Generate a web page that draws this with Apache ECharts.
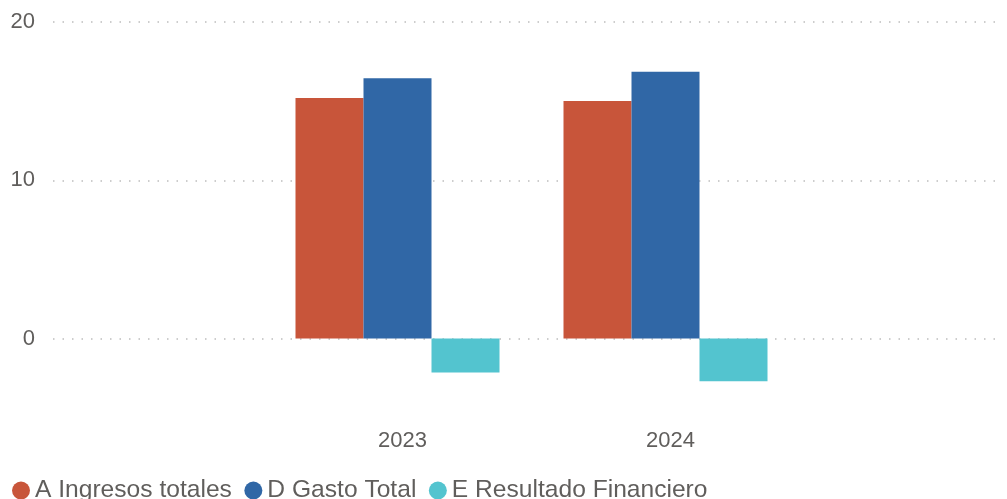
<!DOCTYPE html>
<html>
<head>
<meta charset="utf-8">
<script src="https://cdn.jsdelivr.net/npm/echarts@6/dist/echarts.min.js"></script>
<style>
  html, body { margin: 0; padding: 0; background: #fff; }
  #chart { width: 1007px; height: 499px; }
</style>
</head>
<body>
<div id="chart"></div>
<script>
    // data
    const categories = ['2023', '2024'];
    const ingresos = [15.2, 15.0];
    const gasto = [16.45, 16.85];
    const resultado = [-2.15, -2.7];
    const seriesNames = ['A Ingresos totales', 'D Gasto Total', 'E Resultado Financiero'];
    const yTicks = [0, 10, 20];

    const textColor = '#605E5C';
    const font = '"Liberation Sans", Arial, sans-serif';

    const chart = echarts.init(document.getElementById('chart'));

    const barSeries = (name, data, color) => ({
        name: name,
        type: 'bar',
        xAxisIndex: 1,
        yAxisIndex: 1,
        data: data,
        barWidth: 68,
        barGap: '0%',
        itemStyle: { color: color },
        emphasis: { disabled: true }
    });

    chart.setOption({
        animation: false,
        textStyle: { fontFamily: font },
        legend: {
            left: 12,
            top: 478,
            padding: 0,
            itemWidth: 18,
            itemHeight: 18,
            itemGap: 12.5,
            icon: 'circle',
            data: seriesNames,
            textStyle: { color: textColor, fontSize: 24.6, fontFamily: font }
        },
        grid: [
            // full width grid only for the dotted gridlines and y labels
            { left: 53, right: 7, top: 22, bottom: 160.5 },
            // grid holding the bars
            { left: 263.5, right: 207.5, top: 22, bottom: 81.4 }
        ],
        xAxis: [
            { gridIndex: 0, type: 'category', data: categories, show: false },
            {
                gridIndex: 1,
                type: 'category',
                data: categories,
                axisLine: { show: false },
                axisTick: { show: false },
                axisLabel: {
                    color: textColor,
                    fontSize: 22,
                    margin: 12,
                    padding: [0, 0, 0, 10],
                    fontFamily: font
                }
            }
        ],
        yAxis: [
            {
                gridIndex: 0,
                type: 'value',
                min: yTicks[0],
                max: yTicks[yTicks.length - 1],
                interval: yTicks[1] - yTicks[0],
                axisLine: { show: false },
                axisTick: { show: false },
                axisLabel: { color: textColor, fontSize: 22, margin: 18, fontFamily: font },
                splitLine: {
                    lineStyle: { color: '#BDBDBD', width: 1.5, type: [1.5, 8] }
                }
            },
            {
                gridIndex: 1,
                type: 'value',
                min: -5,
                max: 20,
                interval: 5,
                show: false,
                splitLine: { show: false }
            }
        ],
        series: [
            barSeries(seriesNames[0], ingresos, '#C8553A'),
            barSeries(seriesNames[1], gasto, '#3067A6'),
            barSeries(seriesNames[2], resultado, '#53C4CF')
        ]
    });
</script>
</body>
</html>
